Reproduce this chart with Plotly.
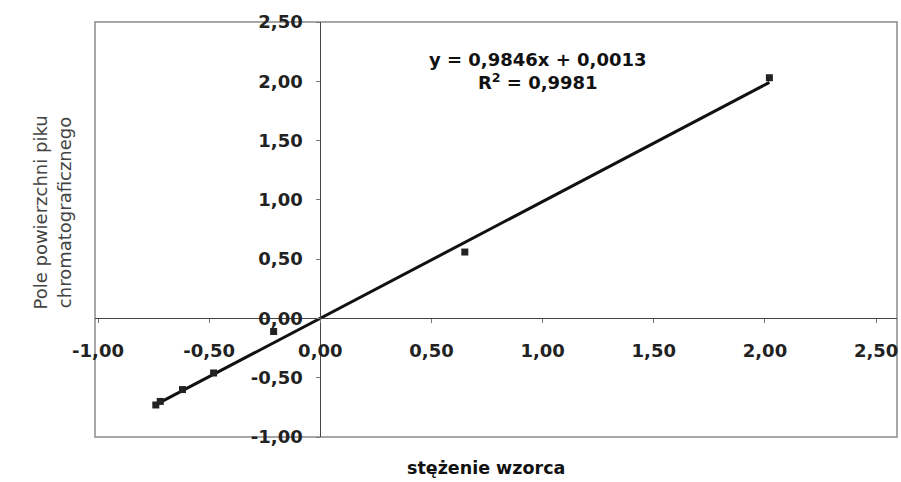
import plotly.graph_objects as go

# data
conc = [-0.74, -0.72, -0.62, -0.48, -0.21, 0.65, 2.02]
area = [-0.73, -0.70, -0.60, -0.46, -0.11, 0.56, 2.03]
slope = 0.9846
intercept = 0.0013
r2 = 0.9981

x_ticks = [-1.0, -0.5, 0.0, 0.5, 1.0, 1.5, 2.0, 2.5]
y_ticks = [-1.0, -0.5, 0.0, 0.5, 1.0, 1.5, 2.0, 2.5]
x_tick_text = ["-1,00", "-0,50", "0,00", "0,50", "1,00", "1,50", "2,00", "2,50"]
y_tick_text = ["-1,00", "-0,50", "0,00", "0,50", "1,00", "1,50", "2,00", "2,50"]

xr = [-1.0135, 2.594]
yr = [-1.0, 2.5]

trend_x = [min(conc), max(conc)]
trend_y = [slope * v + intercept for v in trend_x]

fig = go.Figure()
fig.add_trace(go.Scatter(x=trend_x, y=trend_y, mode="lines",
                         line=dict(color="#111111", width=3), showlegend=False,
                         hoverinfo="skip"))
fig.add_trace(go.Scatter(x=conc, y=area, mode="markers",
                         marker=dict(symbol="square", size=7, color="#222222"),
                         showlegend=False))

FONT = "DejaVu Sans, Verdana, sans-serif"
xpos = (0 - yr[0]) / (yr[1] - yr[0])
ypos = (0 - xr[0]) / (xr[1] - xr[0])

def fmt(v):
    return str(v).replace(".", ",")

fig.update_layout(
    width=901, height=482,
    margin=dict(l=95, r=4, t=22, b=45),
    paper_bgcolor="white", plot_bgcolor="white",
    font=dict(family=FONT, size=14, color="#222222"),
    xaxis=dict(range=xr, tickvals=x_ticks, ticktext=x_tick_text,
               showgrid=False, zeroline=False, showline=True,
               linecolor="#444444", linewidth=1, automargin=False,
               anchor="free", position=xpos,
               ticks="outside", ticklen=4, tickcolor="#777777",
               ticklabelstandoff=12,
               tickfont=dict(family=FONT, size=18, color="#222222", weight="bold")),
    yaxis=dict(range=yr, tickvals=y_ticks, ticktext=y_tick_text,
               showgrid=False, zeroline=False, showline=True,
               linecolor="#444444", linewidth=1, automargin=False,
               anchor="free", position=ypos,
               ticks="outside", ticklen=4, tickcolor="#777777",
               ticklabelstandoff=10,
               tickfont=dict(family=FONT, size=18, color="#222222", weight="bold")),
    shapes=[dict(type="rect", xref="paper", yref="paper", x0=0, x1=1, y0=0, y1=1,
                 line=dict(color="#8a8a8a", width=1.5), layer="below")],
    annotations=[
        dict(x=0.98, y=2.084, xref="x", yref="y", showarrow=False,
             xanchor="center", yanchor="middle",
             text=f"y = {fmt(slope)}x + {fmt(intercept)}<br>R<sup>2</sup> = {fmt(r2)}",
             font=dict(family=FONT, size=18, color="#111111", weight="bold"),
             align="center"),
        dict(x=-0.053, y=0.542, xref="paper", yref="paper", showarrow=False,
             xanchor="center", yanchor="middle",
             text="Pole powierzchni piku<br>chromatograficznego", textangle=-90,
             font=dict(family=FONT, size=18, color="#444444"), align="center"),
        dict(x=0.487, y=-0.075, xref="paper", yref="paper",
             xanchor="center", yanchor="middle",
             showarrow=False, text="stężenie wzorca",
             font=dict(family=FONT, size=17.5, color="#111111", weight="bold")),
    ],
)

fig.write_html(
    "out.html",
    config={"displayModeBar": False},
    post_script="document.body.style.margin='0';document.body.style.overflow='hidden';",
)
